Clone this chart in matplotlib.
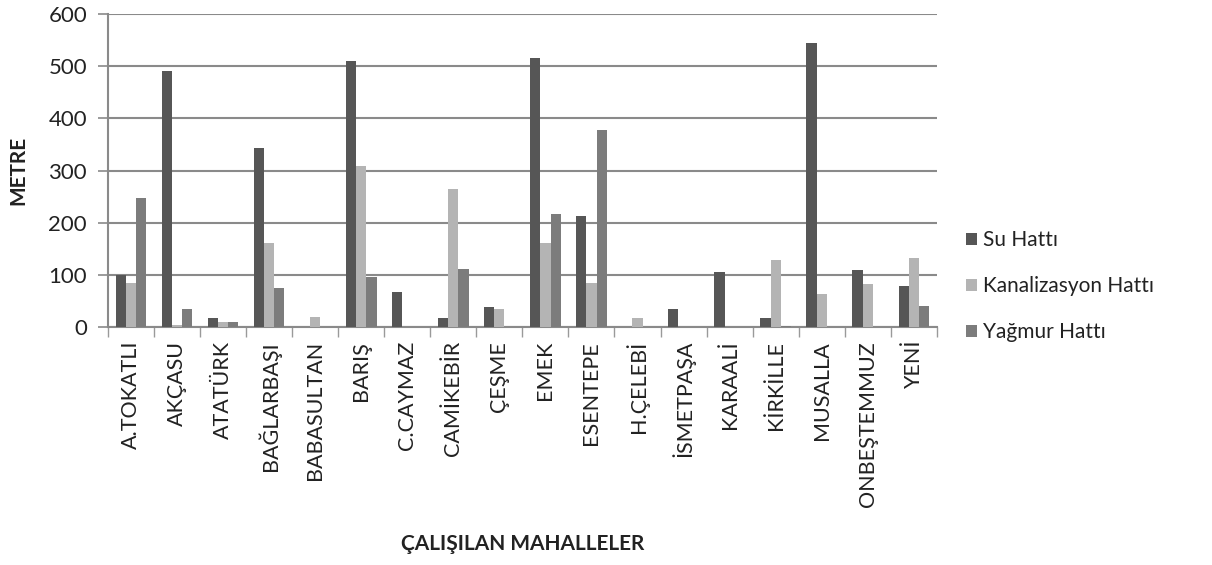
import numpy as np
import matplotlib
matplotlib.use('Agg')
import matplotlib.pyplot as plt

plt.rcParams['font.family'] = ['Lato', 'DejaVu Sans']

mahalleler = ['A.TOKATLI', 'AKÇASU', 'ATATÜRK', 'BAĞLARBAŞI', 'BABASULTAN', 'BARIŞ',
              'C.CAYMAZ', 'CAMİKEBİR', 'ÇEŞME', 'EMEK', 'ESENTEPE', 'H.ÇELEBİ',
              'İSMETPAŞA', 'KARAALİ', 'KİRKİLLE', 'MUSALLA', 'ONBEŞTEMMUZ', 'YENİ']
su_hatti = [100, 490, 18, 343, 0, 510, 68, 18, 38, 515, 213, 0, 35, 105, 18, 545, 110, 78]
kanalizasyon_hatti = [85, 3, 10, 162, 20, 308, 0, 265, 35, 162, 84, 18, 0, 0, 128, 64, 83, 133]
yagmur_hatti = [248, 35, 9, 75, 0, 95, 0, 112, 0, 216, 378, 0, 0, 0, 2, 0, 0, 40]

seriler = ['Su Hattı', 'Kanalizasyon Hattı', 'Yağmur Hattı']
renkler = ['#565656', '#b4b4b4', '#7c7c7c']

fig = plt.figure(figsize=(12.12, 5.65), dpi=100)
ax = fig.add_axes([0.089, 0.4212, 0.684, 0.554])

x = np.arange(len(mahalleler))
w = 0.222
for i, (vals, ad, renk) in enumerate(zip([su_hatti, kanalizasyon_hatti, yagmur_hatti], seriler, renkler)):
    ax.bar(x + (i - 1) * w, vals, width=w, color=renk, label=ad, zorder=3)

ax.set_xlim(-0.5, len(mahalleler) - 0.5)
ax.set_ylim(0, 600)
ax.set_yticks(range(0, 601, 100))
ax.yaxis.grid(True, color='#8a8a8a', linewidth=1.5, zorder=0)
ax.tick_params(axis='y', labelsize=16, colors='#8a8a8a', labelcolor='#222222', length=7, width=1.2, pad=8)

# kategori sınırlarında küçük çentikler
ax.set_xticks(np.arange(-0.5, len(mahalleler)), minor=False)
ax.set_xticklabels([])
ax.set_xticks(x, minor=True)
ax.set_xticklabels(mahalleler, minor=True, rotation=90, fontsize=15.5, color='#222222')
ax.tick_params(axis='x', which='major', length=7, width=1.0, color='#9a9a9a')
ax.tick_params(axis='x', which='minor', length=0, pad=10)

for s in ['top', 'right']:
    ax.spines[s].set_visible(False)
for s in ['left', 'bottom']:
    ax.spines[s].set_color('#8a8a8a')
    ax.spines[s].set_linewidth(1.5)

ax.set_ylabel('METRE', fontsize=15, fontweight='bold', color='#222222', labelpad=14)
ax.set_xlabel('ÇALIŞILAN MAHALLELER', fontsize=15, fontweight='bold', color='#222222', labelpad=20)

ax.legend(loc='center left', bbox_to_anchor=(1.012, 0.13), frameon=False, fontsize=15,
          handlelength=0.55, handleheight=0.55, handletextpad=0.3, labelspacing=1.25,
          labelcolor='#222222')

fig.savefig('out.png', dpi=100)
